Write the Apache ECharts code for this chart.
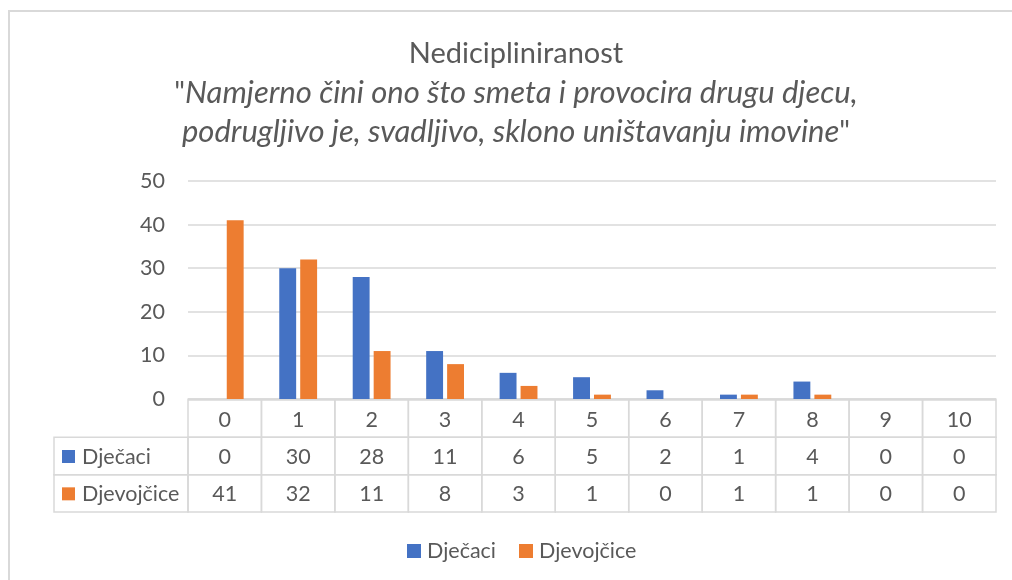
<!DOCTYPE html>
<html>
<head>
<meta charset="utf-8">
<script src="https://cdn.jsdelivr.net/npm/echarts@6/dist/echarts.min.js"></script>
<style>html,body{margin:0;padding:0;background:#fff}#c{width:1012px;height:580px}</style>
</head>
<body>
<div id="c"></div>
<script>
const categories = ['0','1','2','3','4','5','6','7','8','9','10'];
const boys = [0,30,28,11,6,5,2,1,4,0,0];
const girls = [41,32,11,8,3,1,0,1,1,0,0];
const seriesNames = ['Dječaci','Djevojčice'];
const seriesColors = ['#4472C4','#ED7D31'];
const yTicks = {min:0, max:50, interval:10};

const FONT = 'Lato';
const TXT = '#595959';
const GRID = '#d9d9d9';
const FS = 21.5;

const tableRows = [categories, boys, girls];
const tableData = [];
for (let r = 0; r < 3; r++) for (let i = 0; i < categories.length; i++) tableData.push([i, r]);

const chart = echarts.init(document.getElementById('c'));
chart.setOption({
  animation:false,
  textStyle:{fontFamily:FONT},
  title:{
    left:511, textAlign:'center', top:29,
    text:'{t|Nedicipliniranost}\n{q|"}{i|Namjerno čini ono što smeta i provocira drugu djecu,}\n{i|podrugljivo je, svadljivo, sklono uništavanju imovine}{q|"}',
    textStyle:{
      fontFamily:FONT, fontSize:29, color:TXT, fontWeight:'normal', lineHeight:39,
      rich:{
        t:{fontFamily:FONT, fontSize:29, color:TXT, lineHeight:39},
        q:{fontFamily:FONT, fontSize:29, color:TXT, lineHeight:39},
        i:{fontFamily:FONT, fontSize:31, color:TXT, fontStyle:'italic', lineHeight:39}
      }
    }
  },
  legend:{
    top:535, left:402, icon:'rect', itemWidth:14, itemHeight:14, itemGap:23,
    textStyle:{fontFamily:FONT, fontSize:FS, color:TXT, padding:[0,0,0,1]},
    data:seriesNames
  },
  grid:[
    {left:188, right:16, top:181, height:218},
    {left:188, right:16, top:400, height:112}
  ],
  xAxis:[
    {type:'category', data:categories, gridIndex:0,
     axisLine:{lineStyle:{color:GRID, width:1.5}}, axisTick:{show:false}, axisLabel:{show:false}},
    {type:'category', data:categories, gridIndex:1, show:false}
  ],
  yAxis:[
    {type:'value', gridIndex:0, min:yTicks.min, max:yTicks.max, interval:yTicks.interval,
     axisLine:{show:false}, axisTick:{show:false},
     axisLabel:{color:TXT, fontSize:FS, fontFamily:FONT, margin:23},
     splitLine:{lineStyle:{color:GRID, width:1.5}}},
    {type:'category', gridIndex:1, data:['h','b','g'], inverse:true, show:false}
  ],
  series:[
    {name:seriesNames[0], type:'bar', data:boys, barWidth:'23%', barGap:'24%',
     itemStyle:{color:seriesColors[0]}},
    {name:seriesNames[1], type:'bar', data:girls, barWidth:'23%', barGap:'24%',
     itemStyle:{color:seriesColors[1]}},
    {type:'custom', xAxisIndex:1, yAxisIndex:1, data:tableData, encode:{x:0,y:1}, silent:true,
     renderItem:function(params, api){
       const i = api.value(0), r = api.value(1);
       const c = api.coord([i, r]);
       const w = api.size([1,0])[0], h = api.size([0,1])[1];
       const children = [
         {type:'rect', shape:{x:c[0]-w/2, y:c[1]-h/2, width:w, height:h},
          style:{fill:'none', stroke:GRID, lineWidth:1.5}},
         {type:'text', style:{text:String(tableRows[r][i]), x:c[0], y:c[1]+1, align:'center', verticalAlign:'middle',
          fill:TXT, font:FS + 'px ' + FONT}}
       ];
       if (i === 0 && r > 0) {
         const lx = c[0]-w/2-134;
         children.push({type:'rect', shape:{x:lx, y:c[1]-h/2, width:134, height:h},
           style:{fill:'none', stroke:GRID, lineWidth:1.5}});
         children.push({type:'rect', shape:{x:lx+8, y:c[1]-6, width:13, height:13},
           style:{fill:seriesColors[r-1]}});
         children.push({type:'text', style:{text:seriesNames[r-1], x:lx+28, y:c[1]+1, align:'left', verticalAlign:'middle',
           fill:TXT, font:FS + 'px ' + FONT}});
       }
       return {type:'group', children:children};
     }}
  ],
  graphic:[
    {type:'rect', shape:{x:9, y:11, width:1020, height:600}, style:{fill:'none', stroke:GRID, lineWidth:2}, silent:true}
  ]
});
</script>
</body>
</html>
